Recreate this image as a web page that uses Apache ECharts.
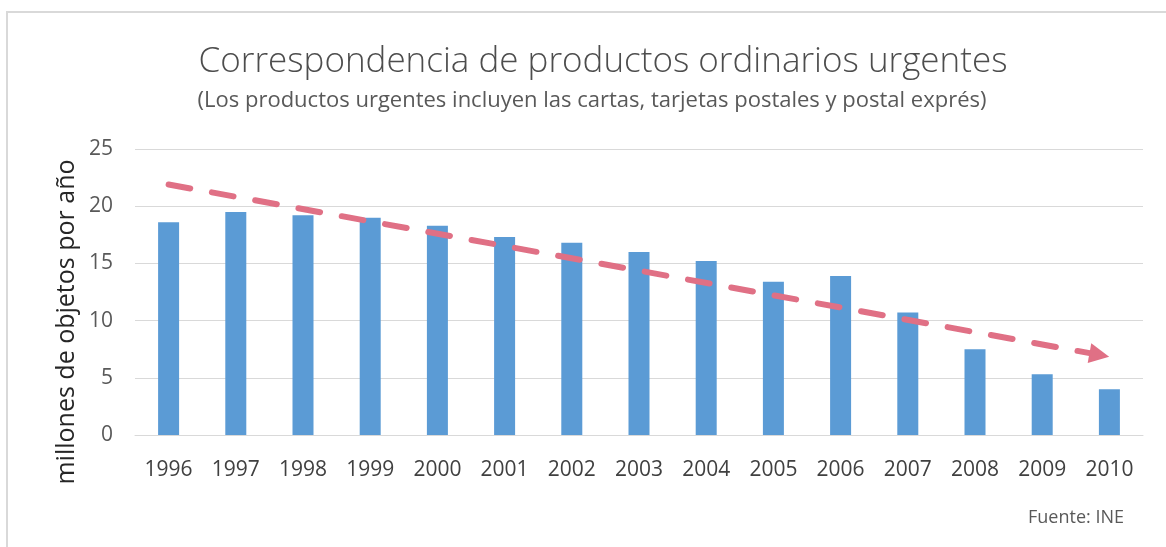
<!DOCTYPE html>
<html>
<head>
<meta charset="utf-8">
<script src="https://cdn.jsdelivr.net/npm/echarts@6/dist/echarts.min.js"></script>
<style>
  html, body { margin: 0; padding: 0; background: #fff; }
  #chart { width: 1166px; height: 547px; }
</style>
</head>
<body>
<div id="chart"></div>
<script>
const years = ['1996', '1997', '1998', '1999', '2000', '2001', '2002', '2003', '2004', '2005', '2006', '2007', '2008', '2009', '2010']
const volumes = [18.6, 19.5, 19.2, 19.0, 18.3, 17.3, 16.8, 16.0, 15.2, 13.4, 13.9, 10.7, 7.5, 5.3, 4.0]
// trend arrow: [position in category steps, value] at start and end
const trendStart = [0, 21.9]
const trendEnd = [13.85, 7.0]
const yTicks = [0, 5, 10, 15, 20, 25]

const font = '"Open Sans", "Noto Sans", sans-serif'
const chart = echarts.init(document.getElementById('chart'))

const option = {
  backgroundColor: '#fff',
  animation: false,
  graphic: [
    {
      type: 'rect',
      shape: { x: 7, y: 12, width: 1200, height: 600 },
      style: { fill: 'none', stroke: '#d9d9d9', lineWidth: 2 },
      silent: true
    },
    {
      type: 'text',
      x: 603,
      y: 62,
      style: {
        text: 'Correspondencia de productos ordinarios urgentes',
        font: '300 35px ' + font,
        fill: '#4d4d4d',
        align: 'center',
        verticalAlign: 'middle'
      }
    },
    {
      type: 'text',
      x: 592,
      y: 101,
      style: {
        text: '(Los productos urgentes incluyen las cartas, tarjetas postales y postal exprés)',
        font: '22px ' + font,
        fill: '#595959',
        align: 'center',
        verticalAlign: 'middle'
      }
    },
    {
      type: 'text',
      x: 67,
      y: 322,
      rotation: Math.PI / 2,
      style: {
        text: 'millones de objetos por año',
        font: '25px ' + font,
        fill: '#262626',
        align: 'center',
        verticalAlign: 'middle'
      }
    },
    {
      type: 'text',
      x: 1076,
      y: 518,
      style: {
        text: 'Fuente: INE',
        font: '18px ' + font,
        fill: '#595959',
        align: 'center',
        verticalAlign: 'middle'
      }
    }
  ],
  grid: {
    left: 135,
    right: 23,
    top: 149,
    bottom: 112
  },
  xAxis: [{
    type: 'category',
    data: years,
    axisTick: { show: false },
    axisLine: { lineStyle: { color: '#d9d9d9', width: 1 } },
    axisLabel: {
      color: '#404040',
      fontSize: 21,
      fontFamily: font,
      margin: 25
    }
  }, {
    // hidden helper axis aligned with category centres, for the trend arrow
    type: 'value',
    min: -0.5,
    max: years.length - 0.5,
    show: false
  }],
  yAxis: {
    type: 'value',
    min: yTicks[0],
    max: yTicks[yTicks.length - 1],
    interval: 5,
    axisLine: { show: false },
    axisTick: { show: false },
    axisLabel: {
      color: '#595959',
      fontSize: 21,
      fontFamily: font,
      margin: 22
    },
    splitLine: { lineStyle: { color: '#d9d9d9', width: 1 } }
  },
  series: [{
    type: 'bar',
    data: volumes,
    barWidth: 21,
    itemStyle: { color: '#5b9bd5' }
  }, {
    type: 'line',
    xAxisIndex: 1,
    data: [],
    markLine: {
      silent: true,
      animation: false,
      label: { show: false },
      symbol: ['none', 'triangle'],
      symbolSize: [20, 20],
      lineStyle: {
        color: '#e07085',
        width: 6,
        type: [22, 22],
        cap: 'round'
      },
      data: [[
        { coord: trendStart },
        { coord: trendEnd }
      ]]
    }
  }]
}

chart.setOption(option)
</script>
</body>
</html>
